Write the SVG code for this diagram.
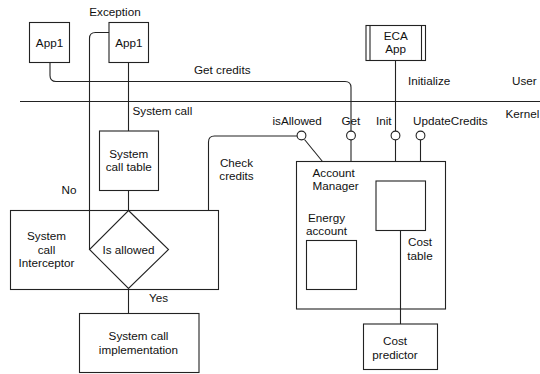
<svg xmlns="http://www.w3.org/2000/svg" width="540" height="374" viewBox="0 0 540 374">
  <style>
    .box { fill: #fff; stroke: #222; stroke-width: 1.1; }
    .ln { fill: none; stroke: #222; stroke-width: 1.1; }
    .port { fill: #fff; stroke: #222; stroke-width: 1.1; }
    text { font-family: "Liberation Sans", Arial, sans-serif; font-size: 11.7px; fill: #111; }
    .c { text-anchor: middle; }
  </style>
  <rect width="540" height="374" fill="#fff"/>

  <!-- user / kernel boundary -->
  <g id="boundary">
    <line class="ln" x1="20" y1="101.5" x2="540" y2="101.5"/>
    <text x="512" y="85">User</text>
    <text x="505.5" y="118">Kernel</text>
  </g>

  <!-- connectors -->
  <g id="connectors">
    <!-- Get credits: App1 to Get port -->
    <path class="ln" d="M50,62.5 V75.5 Q50,81.5 56,81.5 H345 Q351,81.5 351,87.5 V131"/>
    <!-- Exception path back from the decision -->
    <path class="ln" d="M109,32.5 H95.5 Q89.5,32.5 89.5,38.5 V249.5"/>
    <!-- system call into the table -->
    <line class="ln" x1="128.5" y1="62.5" x2="128.5" y2="131"/>
    <line class="ln" x1="128.5" y1="190.5" x2="128.5" y2="210.5"/>
    <line class="ln" x1="128.5" y1="288.5" x2="128.5" y2="313.5"/>
    <!-- Check credits -->
    <path class="ln" d="M208.5,210.5 V142 Q208.5,136 214.5,136 H297.5"/>
    <line class="ln" x1="304.5" y1="139.5" x2="322.5" y2="161.5"/>
    <!-- ECA App init -->
    <line class="ln" x1="395.5" y1="60.5" x2="395.5" y2="131"/>
    <!-- ports down to Account Manager -->
    <line class="ln" x1="351" y1="139.5" x2="351" y2="161.5"/>
    <line class="ln" x1="395.5" y1="139.5" x2="395.5" y2="161.5"/>
    <line class="ln" x1="420.5" y1="139.5" x2="420.5" y2="161.5"/>
    <text x="194" y="73.5">Get credits</text>
    <text x="115" y="16" class="c">Exception</text>
    <text x="132.5" y="114.5">System call</text>
    <text x="236.5" y="166.5" class="c">Check</text>
    <text x="236.5" y="180" class="c">credits</text>
    <text x="408" y="85">Initialize</text>
    <text x="61.5" y="194">No</text>
    <text x="149" y="301.5">Yes</text>
  </g>

  <!-- interface ports -->
  <g id="ports">
    <circle class="port" cx="301.5" cy="135.5" r="4.4"/>
    <circle class="port" cx="351" cy="135.5" r="4.4"/>
    <circle class="port" cx="395.5" cy="135.5" r="4.4"/>
    <circle class="port" cx="420.5" cy="135.5" r="4.4"/>
    <text x="272.5" y="124.5">isAllowed</text>
    <text x="341.5" y="124.5">Get</text>
    <text x="376" y="124.5">Init</text>
    <text x="413" y="124.5">UpdateCredits</text>
  </g>

  <g id="app1-a">
    <rect class="box" x="29.5" y="22.5" width="40" height="40"/>
    <text x="49.5" y="46.5" class="c">App1</text>
  </g>

  <g id="app1-b">
    <rect class="box" x="109" y="22.5" width="39.5" height="40"/>
    <text x="128.8" y="46.5" class="c">App1</text>
  </g>

  <g id="eca-app">
    <rect class="box" x="366" y="25.5" width="59.5" height="35"/>
    <line class="ln" x1="370" y1="25.5" x2="370" y2="60.5"/>
    <line class="ln" x1="421.5" y1="25.5" x2="421.5" y2="60.5"/>
    <text x="395.7" y="39.5" class="c">ECA</text>
    <text x="395.7" y="52.5" class="c">App</text>
  </g>

  <g id="syscall-table">
    <rect class="box" x="99.5" y="131" width="59" height="59.5"/>
    <text x="128.8" y="157.5" class="c">System</text>
    <text x="128.8" y="171" class="c">call table</text>
  </g>

  <g id="interceptor">
    <rect class="box" x="10.5" y="210.5" width="208" height="79"/>
    <text x="46.5" y="240" class="c">System</text>
    <text x="46.5" y="253.5" class="c">call</text>
    <text x="46.5" y="267" class="c">Interceptor</text>
  </g>

  <!-- the Exception path runs down into the left vertex -->
  <line class="ln" x1="89.5" y1="210.5" x2="89.5" y2="249.5"/>

  <g id="is-allowed">
    <polygon class="box" points="128.5,210.5 168.5,249.5 128.5,288.5 89.5,249.5"/>
    <text x="128.5" y="253.5" class="c">Is allowed</text>
  </g>

  <g id="syscall-impl">
    <rect class="box" x="79.5" y="313.5" width="119.5" height="59"/>
    <text x="138.5" y="340" class="c">System call</text>
    <text x="138.5" y="354" class="c">implementation</text>
  </g>

  <g id="account-manager">
    <rect class="box" x="296.5" y="161.5" width="149" height="147.5"/>
    <text x="312.5" y="177">Account</text>
    <text x="312.5" y="190">Manager</text>
  </g>

  <g id="energy-account">
    <rect class="box" x="306.5" y="240.5" width="50" height="49"/>
    <text x="308" y="221.5">Energy</text>
    <text x="306" y="235">account</text>
  </g>

  <g id="cost-table">
    <rect class="box" x="376" y="181" width="49.5" height="49.5"/>
    <text x="420" y="246" class="c">Cost</text>
    <text x="420" y="260" class="c">table</text>
  </g>

  <!-- cost table link, drawn over the manager's bottom edge -->
  <line class="ln" x1="400.5" y1="230.5" x2="400.5" y2="324"/>

  <g id="cost-predictor">
    <rect class="box" x="363.5" y="324" width="74" height="45.5"/>
    <text x="395" y="345" class="c">Cost</text>
    <text x="395" y="358.5" class="c">predictor</text>
  </g>
</svg>
